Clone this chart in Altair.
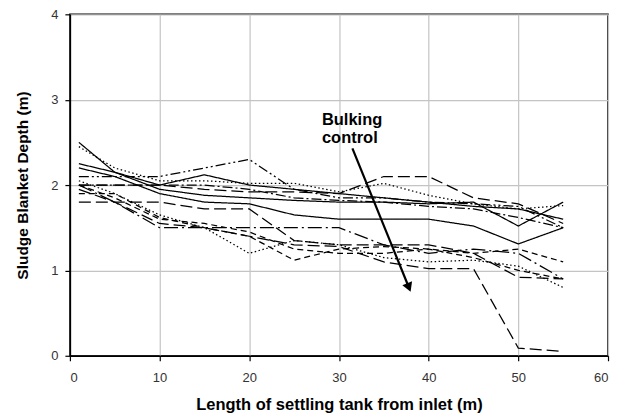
import altair as alt
import pandas as pd

# x positions along the tank (m)
x_pos = [1, 5, 10, 15, 20, 25, 30, 35, 40, 45, 50, 55]

# sludge blanket depth profiles (m)
s01 = [2.50, 2.15, 1.95, 1.88, 1.85, 1.82, 1.80, 1.80, 1.78, 1.80, 1.52, 1.80]
s02 = [2.25, 2.15, 2.00, 2.12, 2.00, 1.95, 1.90, 1.85, 1.80, 1.75, 1.72, 1.60]
s03 = [2.20, 2.10, 1.90, 1.80, 1.78, 1.65, 1.60, 1.60, 1.60, 1.52, 1.31, 1.50]
s04 = [2.45, 2.20, 2.05, 2.05, 2.02, 2.02, 1.92, 2.02, 1.88, 1.78, 1.72, 1.76]
s05 = [2.10, 2.10, 2.10, 2.20, 2.30, 1.95, 1.85, 1.85, 1.80, 1.78, 1.75, 1.50]
s06 = [2.00, 2.00, 2.00, 2.00, 1.95, 1.85, 1.82, 1.80, 1.75, 1.72, 1.62, 1.50]
s07 = [2.00, 2.00, 2.00, 1.95, 1.92, 1.92, 1.90, 2.10, 2.10, 1.85, 1.78, 1.55]
s08 = [2.00, 1.85, 1.60, 1.55, 1.45, 1.25, 1.20, 1.20, 1.25, 1.15, 1.00, 0.90]
s09 = [1.90, 1.90, 1.62, 1.50, 1.40, 1.12, 1.25, 1.28, 1.25, 1.20, 1.25, 1.10]
s10 = [1.80, 1.80, 1.80, 1.72, 1.72, 1.35, 1.30, 1.30, 1.30, 1.20, 0.92, 0.90]
s11 = [2.05, 1.90, 1.65, 1.50, 1.20, 1.35, 1.30, 1.15, 1.10, 1.12, 1.05, 0.80]
s12 = [2.00, 1.80, 1.50, 1.50, 1.50, 1.50, 1.50, 1.30, 1.20, 1.25, 1.20, 0.90]
s13 = [1.95, 1.80, 1.55, 1.50, 1.40, 1.30, 1.28, 1.10, 1.02, 1.02, 0.09, 0.05]

series_names = ["s01", "s02", "s03", "s04", "s05", "s06", "s07",
                "s08", "s09", "s10", "s11", "s12", "s13"]
series_values = [s01, s02, s03, s04, s05, s06, s07, s08, s09, s10, s11, s12, s13]

SOLID = [1, 0]
DOT = [1.5, 2.5]
DASH = [6, 4]
LDASH = [12, 5]
DASHDOT = [10, 3, 2, 3]
DASHDOTDOT = [10, 3, 2, 3, 2, 3]
LDASHDOT = [14, 4, 2, 4]
dash_styles = [SOLID, SOLID, SOLID, DOT, DASHDOTDOT, DASHDOT, LDASH,
               DASH, DASH, LDASH, DOT, LDASHDOT, LDASH]

# annotation
arrow_x = [31.5, 37.8]
arrow_y = [2.43, 0.80]
label_text = ["Bulking", "control"]
label_x = [28.1, 28.1]
label_y = [2.76, 2.55]

x_ticks = [0, 10, 20, 30, 40, 50, 60]
y_ticks = [0, 1, 2, 3, 4]

rows = []
for name, ys in zip(series_names, series_values):
    for x, y in zip(x_pos, ys):
        rows.append({"series": name, "x": x, "y": y})
df = pd.DataFrame(rows)

xscale = alt.Scale(domain=[0, 60], nice=False)
yscale = alt.Scale(domain=[0, 4], nice=False)

lines = alt.Chart(df).mark_line(color="black", strokeWidth=1.25).encode(
    x=alt.X("x:Q", scale=xscale,
            axis=alt.Axis(values=x_ticks, title="Length of settling tank from inlet (m)",
                          format="d", labelPadding=11, titlePadding=12,
                          titleFontSize=16.5)),
    y=alt.Y("y:Q", scale=yscale,
            axis=alt.Axis(values=y_ticks, title="Sludge Blanket Depth (m)",
                          format="d", labelPadding=7, titlePadding=20,
                          titleFontSize=15.5)),
    strokeDash=alt.StrokeDash("series:N",
                              scale=alt.Scale(domain=series_names, range=dash_styles),
                              legend=None),
    detail="series:N",
    order="x:Q",
)

arrow_df = pd.DataFrame({"x": arrow_x, "y": arrow_y, "i": [0, 1]})
arrow = alt.Chart(arrow_df).mark_line(color="black", strokeWidth=2.2).encode(
    x=alt.X("x:Q", scale=xscale), y=alt.Y("y:Q", scale=yscale), order="i:Q"
)
head = alt.Chart(arrow_df[arrow_df["i"] == 1]).mark_point(
    shape="triangle-down", filled=True, size=110, angle=338, color="black", opacity=1
).encode(x=alt.X("x:Q", scale=xscale), y=alt.Y("y:Q", scale=yscale))

label_df = pd.DataFrame({"t": label_text, "x": label_x, "y": label_y})
labels = alt.Chart(label_df).mark_text(
    align="left", baseline="middle", fontSize=16.5, fontWeight="bold",
    font="Liberation Sans", color="black"
).encode(x=alt.X("x:Q", scale=xscale), y=alt.Y("y:Q", scale=yscale), text="t:N")

chart = alt.layer(lines, arrow, head, labels).properties(
    width=539, height=342,
    autosize=alt.AutoSizeParams(type="none"),
    padding={"left": 62, "top": 6, "right": 8, "bottom": 60},
).configure_view(
    stroke="black", strokeWidth=1.5
).configure_axis(
    grid=True, gridColor="#c4c4c4", gridWidth=1.2,
    domainColor="black", domainWidth=1.5,
    tickColor="black", tickSize=5, tickWidth=1.2,
    labelFont="Liberation Sans", labelFontSize=13, labelColor="#333333",
    titleFont="Liberation Sans", titleFontWeight="bold",
    titleColor="black",
)

chart.save("out.html", embed_options={"renderer": "svg", "actions": False})
